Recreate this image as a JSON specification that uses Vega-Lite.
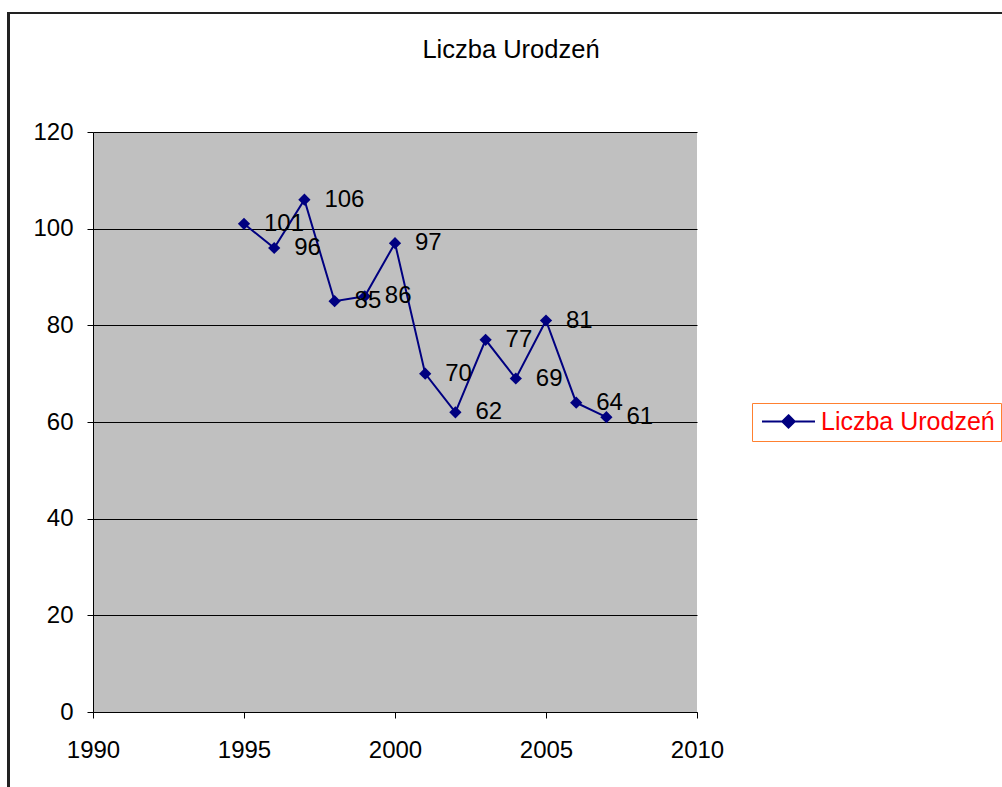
{
  "$schema": "https://vega.github.io/schema/vega-lite/v6.json",
  "width": 604,
  "height": 580,
  "autosize": {"type": "none"},
  "padding": {"left": 93, "top": 132, "right": 305, "bottom": 75},
  "background": "white",
  "title": {
    "text": "Liczba Urodzeń",
    "anchor": "middle",
    "frame": "group",
    "dx": 116,
    "offset": -71,
    "baseline": "alphabetic",
    "font": "Liberation Sans",
    "fontSize": 25.5,
    "fontWeight": "normal",
    "color": "black"
  },
  "config": {
    "view": {"fill": "#C0C0C0", "stroke": null},
    "font": "Liberation Sans"
  },
  "data": {
    "values": [
      {"year": 1995, "value": 101},
      {"year": 1996, "value": 96},
      {"year": 1997, "value": 106},
      {"year": 1998, "value": 85},
      {"year": 1999, "value": 86},
      {"year": 2000, "value": 97},
      {"year": 2001, "value": 70},
      {"year": 2002, "value": 62},
      {"year": 2003, "value": 77},
      {"year": 2004, "value": 69},
      {"year": 2005, "value": 81},
      {"year": 2006, "value": 64},
      {"year": 2007, "value": 61}
    ]
  },
  "encoding": {
    "x": {
      "field": "year",
      "type": "quantitative",
      "scale": {"domain": [1990, 2010], "nice": false, "zero": false},
      "axis": {
        "title": null,
        "values": [1990, 1995, 2000, 2005, 2010],
        "format": "d",
        "grid": false,
        "domainColor": "black",
        "domainWidth": 1,
        "tickColor": "black",
        "tickSize": 6,
        "labelPadding": 20,
        "labelFontSize": 24,
        "labelColor": "black",
        "labelFont": "Liberation Sans",
        "labelFlush": false
      }
    },
    "y": {
      "field": "value",
      "type": "quantitative",
      "scale": {"domain": [0, 120], "nice": false},
      "axis": {
        "title": null,
        "values": [0, 20, 40, 60, 80, 100, 120],
        "grid": true,
        "gridColor": "black",
        "gridOpacity": 1,
        "gridWidth": 1,
        "domainColor": "black",
        "tickColor": "black",
        "tickSize": 6,
        "labelPadding": 14,
        "labelFontSize": 24,
        "labelColor": "black",
        "labelFont": "Liberation Sans",
        "labelFlush": false
      }
    }
  },
  "layer": [
    {
      "mark": {"type": "rect", "fill": null, "stroke": "#222222", "strokeWidth": 2, "clip": false},
      "encoding": {
        "x": {"datum": 1987.2, "type": "quantitative"},
        "x2": {"datum": 2021},
        "y": {"datum": 144.6, "type": "quantitative"},
        "y2": {"datum": -20},
        "color": null
      }
    },
    {
      "mark": {"type": "line", "color": "#000080", "strokeWidth": 2},
      "encoding": {
        "color": {
          "datum": "Liczba Urodzeń",
          "type": "nominal",
          "scale": {"range": ["#000080"]},
          "legend": {
            "title": null,
            "orient": "none",
            "legendX": 659,
            "legendY": 271,
            "strokeColor": "#FF8030",
            "fillColor": "white",
            "padding": 6,
            "symbolType": "M-2.65,0H2.65M0,-0.62L0.62,0L0,0.62L-0.62,0Z",
            "symbolSize": 400,
            "symbolOffset": 18,
            "symbolStrokeWidth": 2,
            "symbolFillColor": "#000080",
            "symbolStrokeColor": "#000080",
            "labelColor": "#FF0000",
            "labelFontSize": 25,
            "labelFont": "Liberation Sans",
            "labelOffset": 20,
            "labelLimit": 400
          }
        }
      }
    },
    {
      "mark": {"type": "point", "shape": "diamond", "filled": true, "color": "#000080", "size": 150, "opacity": 1}
    },
    {
      "mark": {"type": "text", "align": "left", "baseline": "middle", "dx": 20, "fontSize": 24, "font": "Liberation Sans", "color": "black"},
      "encoding": {"text": {"field": "value", "type": "quantitative"}}
    }
  ]
}
